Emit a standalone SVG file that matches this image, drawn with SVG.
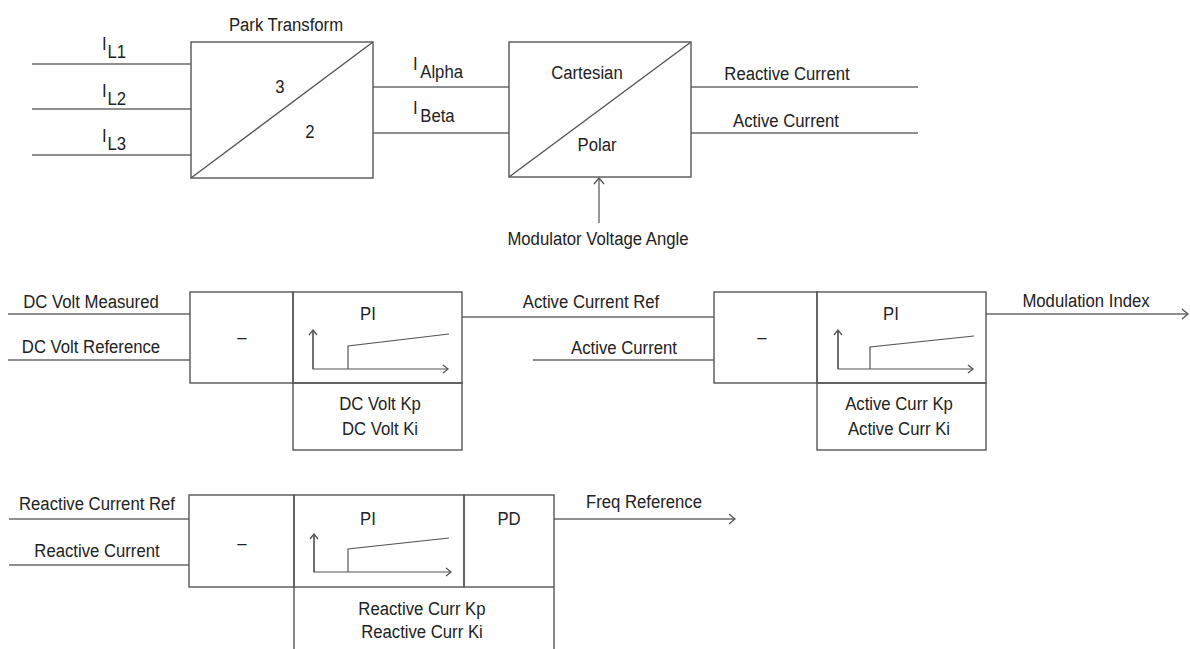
<svg xmlns="http://www.w3.org/2000/svg" width="1190" height="649" viewBox="0 0 1190 649">
<style>
text{font-family:"Liberation Sans",Arial,sans-serif;font-size:19px;fill:#222}
.m{text-anchor:middle}
.box{fill:none;stroke:#555;stroke-width:1.4}
.ln{fill:none;stroke:#6a6a6a;stroke-width:1.4}
.ax{fill:none;stroke:#555;stroke-width:1.2}
</style>
<defs>
<marker id="arr" viewBox="0 0 7 12" refX="6.5" refY="6" markerWidth="7" markerHeight="12" orient="auto" markerUnits="userSpaceOnUse" overflow="visible">
<path d="M0.5,1 L6.5,6 L0.5,11" fill="none" stroke="#555" stroke-width="1.3"/>
</marker>
<marker id="sarr" viewBox="0 0 6 10" refX="5.5" refY="5" markerWidth="6" markerHeight="10" orient="auto" markerUnits="userSpaceOnUse" overflow="visible">
<path d="M0.5,1 L5.5,5 L0.5,9" fill="none" stroke="#555" stroke-width="1.3"/>
</marker>
</defs>
<rect width="1190" height="649" fill="#fff"/>

<g id="connectors">
<line class="ln" x1="32" y1="64" x2="191" y2="64"/>
<line class="ln" x1="32" y1="109" x2="191" y2="109"/>
<line class="ln" x1="32" y1="155" x2="191" y2="155"/>
<line class="ln" x1="373" y1="87" x2="509" y2="87"/>
<line class="ln" x1="373" y1="133" x2="509" y2="133"/>
<line class="ln" x1="691" y1="87" x2="918" y2="87"/>
<line class="ln" x1="691" y1="133" x2="918" y2="133"/>
<line class="ln" x1="599" y1="223" x2="599" y2="178" marker-end="url(#arr)"/>
<line class="ln" x1="8" y1="314" x2="190" y2="314"/>
<line class="ln" x1="8" y1="360" x2="190" y2="360"/>
<line class="ln" x1="462" y1="317" x2="714" y2="317"/>
<line class="ln" x1="533" y1="360" x2="714" y2="360"/>
<line class="ln" x1="986" y1="314" x2="1188" y2="314" marker-end="url(#arr)"/>
<line class="ln" x1="9" y1="519" x2="189" y2="519"/>
<line class="ln" x1="9" y1="565" x2="189" y2="565"/>
<line class="ln" x1="554" y1="519" x2="735" y2="519" marker-end="url(#arr)"/>
</g>

<g id="labels" transform="scale(0.88 1)">
<text x="115.9" y="50">I<tspan dx="1" dy="8">L1</tspan></text>
<text x="115.9" y="97">I<tspan dx="1" dy="8">L2</tspan></text>
<text x="115.9" y="142">I<tspan dx="1" dy="8">L3</tspan></text>
<text x="469.3" y="70">I<tspan dx="3" dy="8">Alpha</tspan></text>
<text x="469.3" y="114">I<tspan dx="3" dy="8">Beta</tspan></text>
<text class="m" x="894.3" y="80">Reactive Current</text>
<text class="m" x="893.2" y="127">Active Current</text>
<text class="m" x="679.5" y="245">Modulator Voltage Angle</text>
<text class="m" x="103.4" y="308">DC Volt Measured</text>
<text class="m" x="103.4" y="353">DC Volt Reference</text>
<text class="m" x="671.6" y="308">Active Current Ref</text>
<text class="m" x="709.1" y="354">Active Current</text>
<text class="m" x="1234.1" y="307">Modulation Index</text>
<text class="m" x="110.2" y="510">Reactive Current Ref</text>
<text class="m" x="110.2" y="557">Reactive Current</text>
<text class="m" x="731.8" y="508">Freq Reference</text>
</g>

<g id="park">
<rect class="box" x="191" y="42" width="182" height="136"/>
<line class="box" x1="191" y1="178" x2="373" y2="42"/>
<g transform="scale(0.88 1)">
<text class="m" x="325" y="31">Park Transform</text>
<text class="m" x="318.2" y="93">3</text>
<text class="m" x="352.3" y="138">2</text>
</g>
</g>

<g id="cartesian-polar">
<rect class="box" x="509" y="42" width="182" height="135"/>
<line class="box" x1="509" y1="177" x2="691" y2="42"/>
<g transform="scale(0.88 1)">
<text class="m" x="667" y="79">Cartesian</text>
<text class="m" x="678.4" y="151">Polar</text>
</g>
</g>

<g id="dc-sum">
<rect class="box" x="190" y="292" width="103" height="91"/>
<g transform="scale(0.88 1)"><text class="m" x="275" y="343">–</text></g>
</g>
<g id="dc-pi">
<rect class="box" x="293" y="292" width="169" height="91"/>
<g transform="scale(0.88 1)"><text class="m" x="418.2" y="320">PI</text></g>
<polyline class="ax" points="313,331 313,369 448,369" marker-end="url(#sarr)"/>
<line class="ax" x1="313" y1="369" x2="313" y2="330" marker-end="url(#sarr)"/>
<polyline class="ax" points="348,369 348,346 449,334"/>
</g>
<g id="dc-params">
<rect class="box" x="293" y="383" width="169" height="67"/>
<g transform="scale(0.88 1)">
<text class="m" x="431.8" y="410">DC Volt Kp</text>
<text class="m" x="431.8" y="435">DC Volt Ki</text>
</g>
</g>

<g id="ac-sum">
<rect class="box" x="714" y="292" width="103" height="91"/>
<g transform="scale(0.88 1)"><text class="m" x="865.9" y="343">–</text></g>
</g>
<g id="ac-pi">
<rect class="box" x="817" y="292" width="169" height="91"/>
<g transform="scale(0.88 1)"><text class="m" x="1012.5" y="320">PI</text></g>
<polyline class="ax" points="838,331 838,369 973,369" marker-end="url(#sarr)"/>
<line class="ax" x1="838" y1="369" x2="838" y2="330" marker-end="url(#sarr)"/>
<polyline class="ax" points="870,369 870,347 974,336"/>
</g>
<g id="ac-params">
<rect class="box" x="817" y="383" width="169" height="67"/>
<g transform="scale(0.88 1)">
<text class="m" x="1021.6" y="410">Active Curr Kp</text>
<text class="m" x="1021.6" y="435">Active Curr Ki</text>
</g>
</g>

<g id="rc-sum">
<rect class="box" x="189" y="495" width="105" height="92"/>
<g transform="scale(0.88 1)"><text class="m" x="275" y="549">–</text></g>
</g>
<g id="rc-pi">
<rect class="box" x="294" y="495" width="170" height="92"/>
<g transform="scale(0.88 1)"><text class="m" x="418.2" y="525">PI</text></g>
<polyline class="ax" points="314,535 314,572 451,572" marker-end="url(#sarr)"/>
<line class="ax" x1="314" y1="572" x2="314" y2="534" marker-end="url(#sarr)"/>
<polyline class="ax" points="348,572 348,549 449,538"/>
</g>
<g id="rc-pd">
<rect class="box" x="464" y="495" width="90" height="92"/>
<g transform="scale(0.88 1)"><text class="m" x="578.4" y="525">PD</text></g>
</g>
<g id="rc-params">
<path class="box" d="M294,587 V650 M554,587 V650"/>
<g transform="scale(0.88 1)">
<text class="m" x="479.5" y="615">Reactive Curr Kp</text>
<text class="m" x="479.5" y="638">Reactive Curr Ki</text>
</g>
</g>
</svg>
